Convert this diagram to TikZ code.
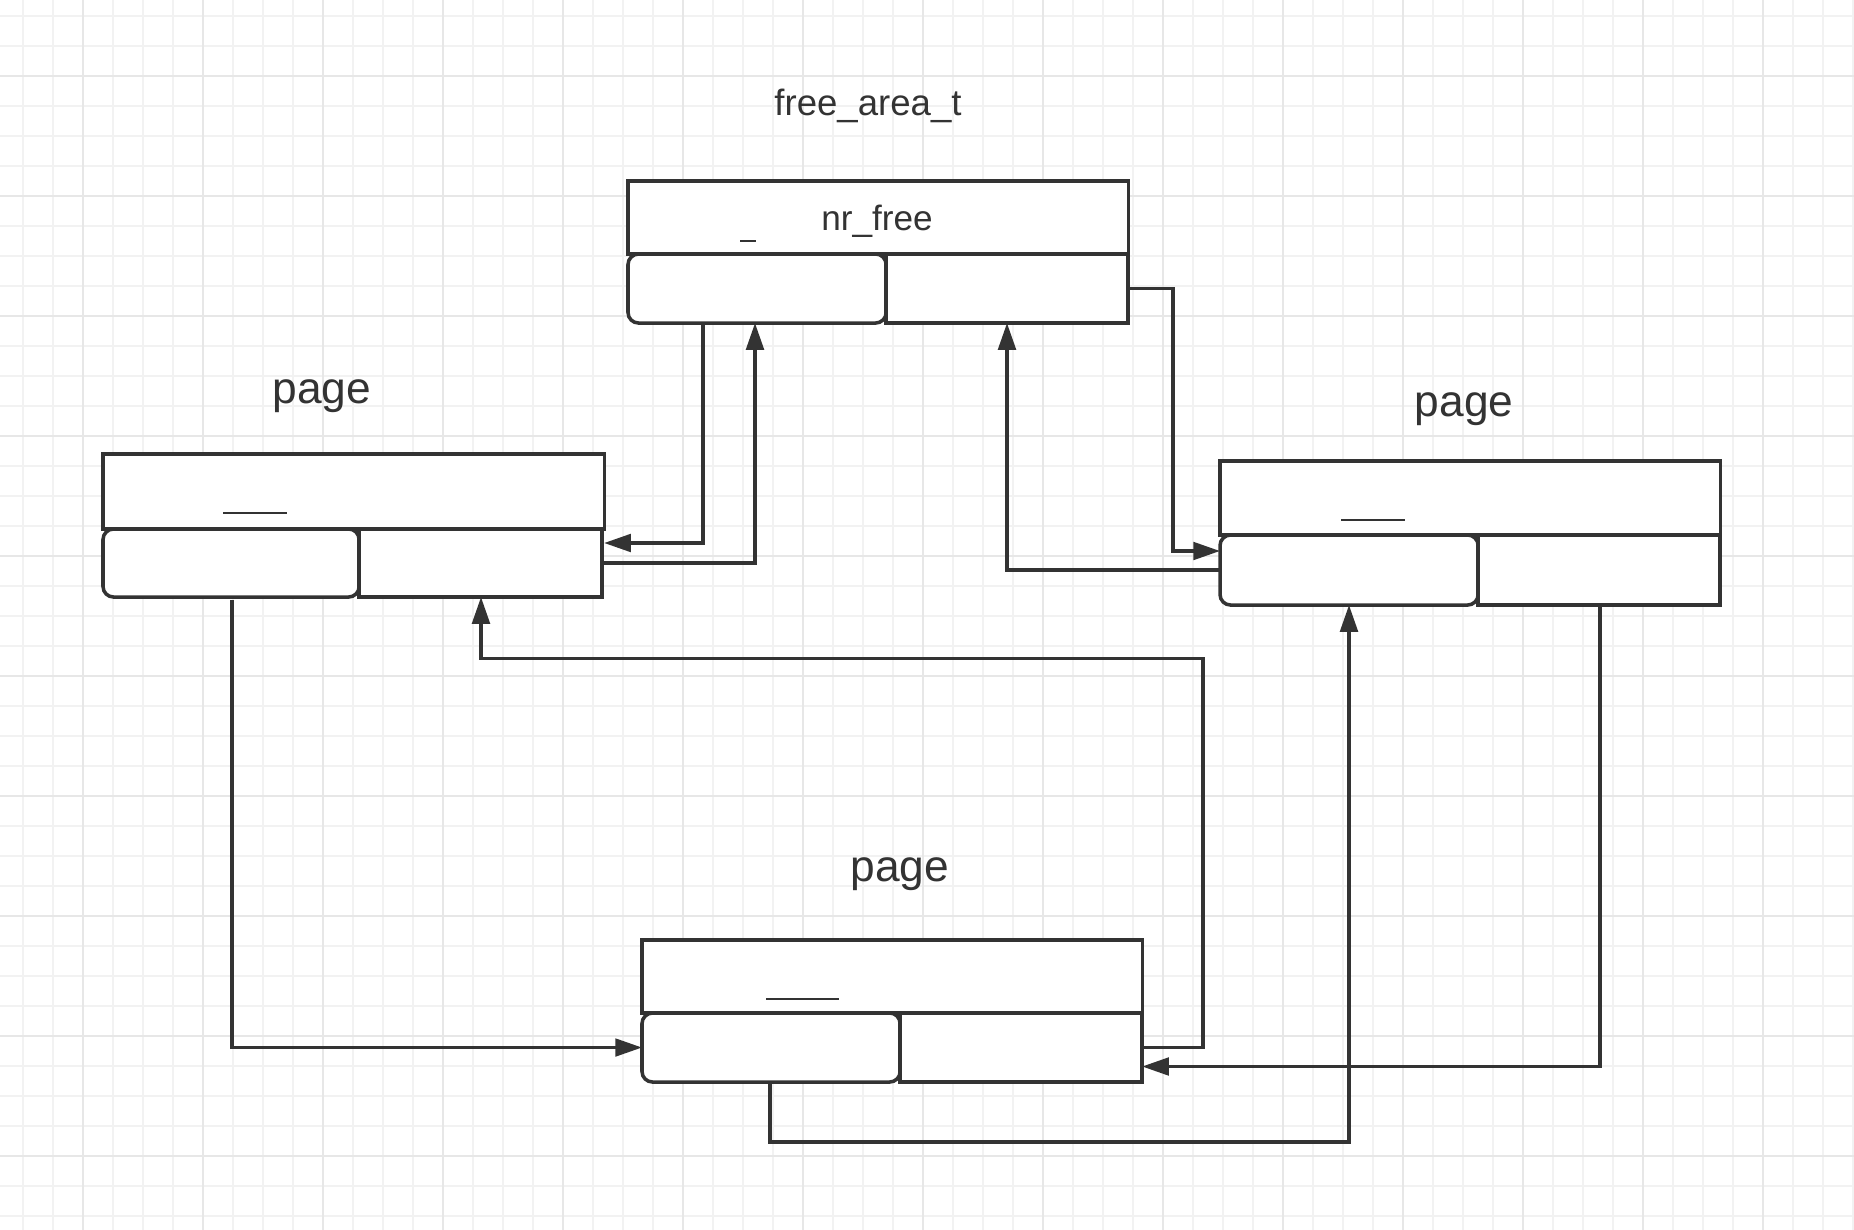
\documentclass[tikz,border=0pt]{standalone}
\usepackage{fontspec}
\setmainfont{Liberation Sans}
\usetikzlibrary{arrows.meta,calc}
\definecolor{ink}{HTML}{333333}
\definecolor{gridminor}{HTML}{F2F2F2}
\definecolor{gridmajor}{HTML}{E7E7E7}
\tikzset{
  cell/.style={draw=ink, line width=1pt, fill=white, inner sep=0pt, outer sep=0pt, anchor=north west},
  rcell/.style={cell, rounded corners=3pt},
  conn/.style={draw=ink, line width=0.95pt, -{Triangle[length=7.6pt,width=5pt]}},
  lbl/.style={text=ink, inner sep=0pt, anchor=base},
  uline/.style={draw=ink, line width=0.4pt},
  gminor/.style={draw=gridminor, line width=0.5pt},
  gmajor/.style={draw=gridmajor, line width=0.6pt}
}
\begin{document}
\begin{tikzpicture}[x={(0.01cm,0)}, y={(0,-0.01cm)}]
\useasboundingbox (0,0) rectangle (1854,1230);
\fill[white] (0,0) rectangle (1854,1230);
% grid
\foreach \i in {0,...,61} \draw[gminor] ({22.7+30*\i},0) -- ({22.7+30*\i},1230);
\foreach \i in {0,...,40} \draw[gminor] (0,{16+30*\i}) -- (1854,{16+30*\i});
\foreach \i in {0,...,14} \draw[gmajor] ({82.7+120*\i},0) -- ({82.7+120*\i},1230);
\foreach \i in {0,...,9} \draw[gmajor] (0,{76+120*\i}) -- (1854,{76+120*\i});

% labels
\node[lbl, font=\fontsize{10.4pt}{12pt}\selectfont] (tfa) at (868,115) {free\_area\_t};
\node[lbl, font=\fontsize{12.6pt}{14pt}\selectfont] (tlp) at (322,403) {page};
\node[lbl, font=\fontsize{12.6pt}{14pt}\selectfont] (trp) at (1464,416) {page};
\node[lbl, font=\fontsize{12.6pt}{14pt}\selectfont] (tbp) at (900,881) {page};

% free_area_t box
\node[cell, minimum width=5.00cm, minimum height=0.73cm] (fa) at (628,181) {};
\node[rcell, minimum width=2.58cm, minimum height=0.69cm] (fal) at (628,254) {};
\node[cell, minimum width=2.42cm, minimum height=0.69cm] (far) at (886,254) {};
\node[lbl, font=\fontsize{10pt}{12pt}\selectfont] (nrf) at (877,230) {nr\_free};
\draw[uline] (740,241) -- (756,241);

% left page
\node[cell, minimum width=5.01cm, minimum height=0.75cm] (lp) at (103,454) {};
\node[rcell, minimum width=2.56cm, minimum height=0.68cm] (lpl) at (103,529) {};
\node[cell, minimum width=2.43cm, minimum height=0.68cm] (lpr) at (359,529) {};
\draw[uline] (223,513) -- (287,513);

% right page
\node[cell, minimum width=5.00cm, minimum height=0.74cm] (rp) at (1220,461) {};
\node[rcell, minimum width=2.58cm, minimum height=0.70cm] (rpl) at (1220,535) {};
\node[cell, minimum width=2.42cm, minimum height=0.70cm] (rpr) at (1478,535) {};
\draw[uline] (1341,520) -- (1405,520);

% bottom page
\node[cell, minimum width=5.00cm, minimum height=0.73cm] (bp) at (642,940) {};
\node[rcell, minimum width=2.58cm, minimum height=0.69cm] (bpl) at (642,1013) {};
\node[cell, minimum width=2.42cm, minimum height=0.69cm] (bpr) at (900,1013) {};
\draw[uline] (766,999) -- (839,999);

% connectors
\draw[conn] ($(fal.south west)+(75,0)$) |- ($(lpr.north east)+(2,14)$);
\draw[conn] (lpr.east) -| ($(fal.south west)+(127,0)$);
\draw[conn] (far.east) -- ++(45,0) |- ($(rpl.north west)+(0,16)$);
\draw[conn] (rpl.west) -| ($(far.south west)+(121,0)$);
\draw[conn] (bpr.east) -- ++(61,0) -- ++(0,-389) -| ($(lpr.south west)+(122,0)$);
\draw[conn] ($(lpl.south west)+(129,3)$) |- (bpl.west);
\draw[conn] ($(rpr.south west)+(122,0)$) |- ($(bpr.north east)+(0,53.5)$);
\draw[conn] ($(bpl.south west)+(128,0)$) -- ++(0,60) -| ($(rpl.south west)+(129,0)$);
\end{tikzpicture}
\end{document}
